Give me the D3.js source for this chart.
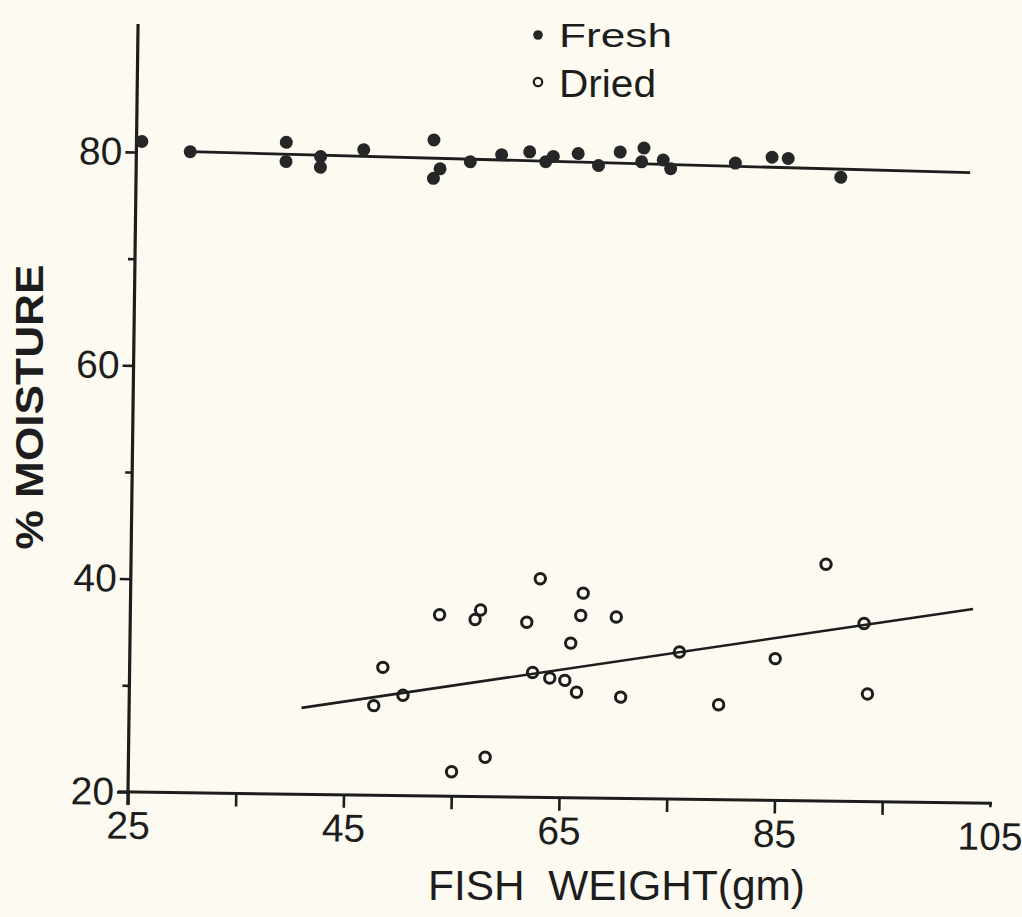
<!DOCTYPE html>
<html><head><meta charset="utf-8">
<script src="https://cdn.jsdelivr.net/npm/d3@7"></script>
<style>html,body{margin:0;background:#fcfaf1;} svg{display:block;background:#fcfaf1;}</style>
</head><body>
<svg id="c" width="1022" height="917"></svg>
<script>
// ---- data ----
const freshWeight   = [25.5, 30.0, 38.9, 38.9, 42.1, 42.1, 46.1, 52.6, 53.2, 52.6, 56.0, 58.9, 61.5, 63.0, 63.7, 66.0, 67.9, 69.9, 72.1, 71.9, 73.9, 74.6, 80.6, 84.0, 85.5, 90.4];
const freshMoisture = [81.0, 80.1, 81.1, 79.3, 79.8, 78.8, 80.5, 81.5, 78.8, 77.9, 79.5, 80.2, 80.5, 79.6, 80.1, 80.4, 79.3, 80.6, 81.0, 79.7, 79.9, 79.1, 79.7, 80.3, 80.2, 78.5];
const driedWeight   = [63.0, 67.0, 53.7, 57.5, 57.0, 61.8, 66.8, 70.1, 65.9, 48.5, 62.4, 64.0, 65.4, 66.5, 70.6, 50.4, 47.7, 58.1, 55.0, 89.5, 76.0, 84.9, 93.1, 79.7, 93.5];
const driedMoisture = [40.5, 39.2, 37.0, 37.5, 36.6, 36.4, 37.1, 37.0, 34.5, 32.0, 31.7, 31.2, 31.0, 29.9, 29.5, 29.4, 28.4, 23.7, 22.3, 42.2, 33.8, 33.3, 36.7, 28.9, 30.1];
const freshFitWeight = [30.0, 102.4];
const freshFitMoisture = [80.1, 79.1];
const driedFitWeight = [41.0, 103.2];
const driedFitMoisture = [28.1, 38.2];
const xTicks  = [25, 35, 45, 55, 65, 75, 85, 95, 105];
const xLabels = [25, 45, 65, 85, 105];
const yTicks  = [20, 30, 40, 50, 60, 70, 80];
const yLabels = [20, 40, 60, 80];
const seriesNames = ["Fresh", "Dried"];
const xTitle = "FISH  WEIGHT(gm)";
const yTitle = "% MOISTURE";

// ---- drawing ----
const ink = "#1d1d1d";
const FONT = "'Liberation Sans', Arial, sans-serif";
const svg = d3.select("#c");

const x = d3.scaleLinear().domain([25, 105]).range([0, 862]);
const y = d3.scaleLinear().domain([20, 92]).range([0, -768]);

// scanned page is slightly rotated
const g = svg.append("g").attr("transform", "translate(128,792) rotate(0.75)");

// axes
const yAx = g.append("g").call(
  d3.axisLeft(y).tickValues(yTicks).tickSize(11).tickSizeOuter(0).tickPadding(3)
    .tickFormat(d => yLabels.includes(d) ? d : ""));
const xAx = g.append("g").call(
  d3.axisBottom(x).tickValues(xTicks).tickSize(13).tickSizeOuter(0).tickPadding(6)
    .tickFormat(d => xLabels.includes(d) ? d : ""));
[yAx, xAx].forEach(a => {
  a.attr("font-family", FONT).attr("font-size", 39);
  a.select(".domain").remove();
  a.selectAll(".tick line").attr("stroke", ink).attr("stroke-width", 2.6);
  a.selectAll(".tick text").attr("fill", ink);
});
yAx.selectAll(".tick").filter(d => !yLabels.includes(d)).select("line").attr("x2", -7);
xAx.selectAll(".tick").filter(d => d === 105).select("line").attr("y2", 4);

g.append("line").attr("x1", x(25) - 10).attr("x2", x(105) + 2)
  .attr("y1", y(20)).attr("y2", y(20)).attr("stroke", ink).attr("stroke-width", 3);
g.append("line").attr("x1", x(25)).attr("x2", x(25))
  .attr("y1", y(20) + 13).attr("y2", y(92)).attr("stroke", ink).attr("stroke-width", 3.2);

// fit lines
const line = d3.line().x(d => x(d[0])).y(d => y(d[1]));
g.append("path").datum(d3.zip(freshFitWeight, freshFitMoisture)).attr("d", line)
  .attr("fill", "none").attr("stroke", ink).attr("stroke-width", 2.8);
g.append("path").datum(d3.zip(driedFitWeight, driedFitMoisture)).attr("d", line)
  .attr("fill", "none").attr("stroke", ink).attr("stroke-width", 2.6);

// points
g.append("g").selectAll("circle").data(d3.zip(freshWeight, freshMoisture)).join("circle")
  .attr("cx", d => x(d[0])).attr("cy", d => y(d[1])).attr("r", 6.5).attr("fill", "#262626");
g.append("g").selectAll("circle").data(d3.zip(driedWeight, driedMoisture)).join("circle")
  .attr("cx", d => x(d[0])).attr("cy", d => y(d[1])).attr("r", 5.2)
  .attr("fill", "none").attr("stroke", ink).attr("stroke-width", 3);

// legend
svg.append("circle").attr("cx", 538).attr("cy", 35).attr("r", 4.8).attr("fill", "#262626");
svg.append("circle").attr("cx", 538).attr("cy", 82).attr("r", 4.2)
  .attr("fill", "none").attr("stroke", ink).attr("stroke-width", 2.2);
svg.append("text").attr("x", 559).attr("y", 47).attr("font-family", FONT).attr("font-size", 34)
  .attr("fill", ink).attr("textLength", 113).attr("lengthAdjust", "spacingAndGlyphs").text(seriesNames[0]);
svg.append("text").attr("x", 559).attr("y", 97).attr("font-family", FONT).attr("font-size", 39)
  .attr("fill", ink).attr("textLength", 97).attr("lengthAdjust", "spacingAndGlyphs").text(seriesNames[1]);

// axis titles
svg.append("text").attr("transform", "translate(43,407) rotate(-90)")
  .attr("text-anchor", "middle").attr("font-family", FONT).attr("font-size", 39)
  .attr("font-weight", "bold").attr("fill", ink)
  .attr("textLength", 285).attr("lengthAdjust", "spacingAndGlyphs").text(yTitle);
svg.append("text").attr("x", 428).attr("y", 900).attr("font-family", FONT).attr("font-size", 42)
  .attr("fill", ink).style("white-space", "pre").attr("xml:space", "preserve")
  .attr("textLength", 377).attr("lengthAdjust", "spacingAndGlyphs").text(xTitle);
</script>
</body></html>
